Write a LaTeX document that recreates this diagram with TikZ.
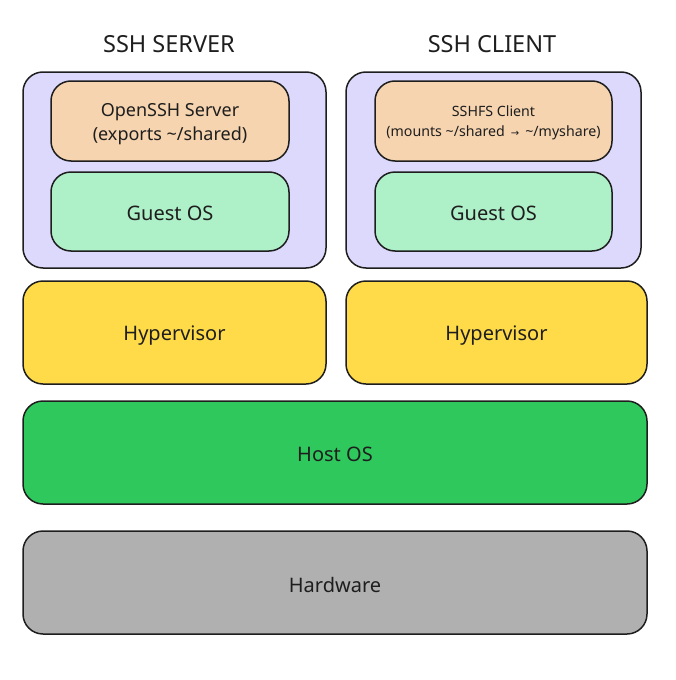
\documentclass[tikz,border=0pt]{standalone}
\usepackage{fontspec}
\setmainfont{Noto Sans}
\newfontfamily\arrowfont{DejaVu Sans}
\definecolor{ink}{HTML}{1E1E1E}
\definecolor{lav}{HTML}{DCD9FC}
\definecolor{peach}{HTML}{F6D4B0}
\definecolor{mint}{HTML}{AEF0C8}
\definecolor{yel}{HTML}{FFDB4A}
\definecolor{grn}{HTML}{2FC85D}
\definecolor{gry}{HTML}{B0B0B0}
\tikzset{
  box/.style={draw=ink, line width=1.5pt, rounded corners=20pt, inner sep=0pt},
  txt/.style={inner sep=0pt, align=center, text=ink, font=\fontsize{20}{24}\selectfont},
  title/.style={text=ink, font=\fontsize{23.5}{28}\selectfont, inner sep=0pt}
}
\begin{document}
\begin{tikzpicture}[x=1pt,y=-1pt]
\useasboundingbox (0,0) rectangle (675,680);
\node[title] (tserver) at (169,44.5) {SSH SERVER};
\node[title] (tclient) at (492,44.5) {SSH CLIENT};
\node[box, fill=lav, minimum width=303pt, minimum height=196pt] (server) at (174.5,170) {};
\node[box, fill=peach, minimum width=238pt, minimum height=80pt] (openssh) at (170,121) {};
\node[txt, font=\fontsize{18}{24}\selectfont] (openssh-t) at ([yshift=-3pt]openssh.center) {OpenSSH Server\\(exports \textasciitilde/shared)};
\node[box, fill=mint, minimum width=238pt, minimum height=79pt] (guestl) at (170,211.5) {};
\node[txt] (guestl-t) at ([yshift=-2pt]guestl.center) {Guest OS};
\node[box, fill=lav, minimum width=295pt, minimum height=196pt] (client) at (493.5,170) {};
\node[box, fill=peach, minimum width=237pt, minimum height=80pt] (sshfs) at (493.5,121) {};
\node[txt, font=\fontsize{14.2}{19.5}\selectfont] (sshfs-t) at ([yshift=-2pt]sshfs.center) {SSHFS Client\\(mounts \textasciitilde/shared\hspace{6pt}{\arrowfont\fontsize{10}{10}\selectfont→}\hspace{6pt}\textasciitilde/myshare)};
\node[box, fill=mint, minimum width=237pt, minimum height=79pt] (guestr) at (493.5,211.5) {};
\node[txt] (guestr-t) at ([yshift=-2pt]guestr.center) {Guest OS};
\node[box, fill=yel, minimum width=303pt, minimum height=103pt] (hypl) at (174.5,332.5) {};
\node[txt] (hypl-t) at ([yshift=-3pt]hypl.center) {Hypervisor};
\node[box, fill=yel, minimum width=301pt, minimum height=103pt] (hypr) at (496.5,332.5) {};
\node[txt] (hypr-t) at ([yshift=-3pt]hypr.center) {Hypervisor};
\node[box, fill=grn, minimum width=624pt, minimum height=103pt] (host) at (335,452.5) {};
\node[txt] (host-t) at ([yshift=-2pt]host.center) {Host OS};
\node[box, fill=gry, minimum width=624pt, minimum height=103pt] (hw) at (335,582.5) {};
\node[txt] (hw-t) at ([yshift=-2pt]hw.center) {Hardware};
\end{tikzpicture}
\end{document}
